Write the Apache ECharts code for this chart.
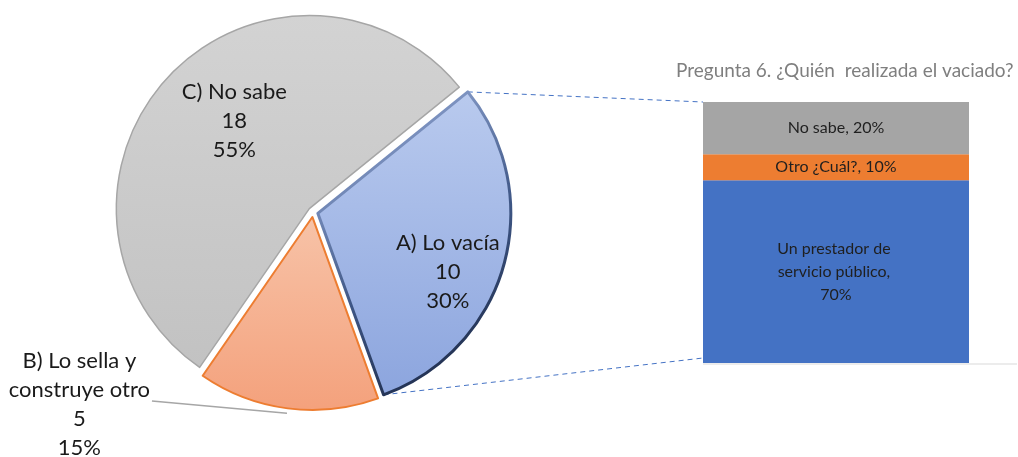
<!DOCTYPE html>
<html>
<head>
<meta charset="utf-8">
<script src="https://cdn.jsdelivr.net/npm/echarts@6/dist/echarts.min.js"></script>
<style>
  html, body { margin: 0; padding: 0; background: #fff; }
  #chart { width: 1018px; height: 457px; }
</style>
</head>
<body>
<div id="chart"></div>
<script>
// pie: what happens with the pit
const pieNames = ['A) Lo vacía', 'B) Lo sella y\nconstruye otro', 'C) No sabe'];
const pieValues = [10, 5, 18];

// stacked bar: who empties it (percent)
const barCategories = ['Pregunta 6'];
const barNames = ['Un prestador de servicio público', 'Otro ¿Cuál?', 'No sabe'];
const barValues = [70, 10, 20];
const barTitle = 'Pregunta 6. ¿Quién  realizada el vaciado?';

const font = 'Lato, "Open Sans", sans-serif';
const pieCenter = [313, 212];
const pieRadius = 193;
const pieStart = 39;
const explode = 5;
const gridLeft = 703, gridTop = 102, gridW = 266, gridH = 261;

const grad = (x2, y2, c0, c1, c2) => ({
  type: 'linear', x: 0, y: 0, x2, y2,
  colorStops: c2
    ? [{ offset: 0, color: c0 }, { offset: 0.55, color: c1 }, { offset: 1, color: c2 }]
    : [{ offset: 0, color: c0 }, { offset: 1, color: c1 }],
});

const sliceStyles = [
  { color: grad(0, 1, '#b9caee', '#8ca5de'), borderColor: grad(1, 1, '#a9bdea', '#3e5685', '#131d36'), borderWidth: 3 },
  { color: grad(0, 1, '#f7c3a8', '#f4a17c'), borderColor: '#ed7d31', borderWidth: 2 },
  { color: grad(0, 1, '#d3d3d3', '#c2c2c2'), borderColor: '#a6a6a6', borderWidth: 1.5 },
];
// where each pie label block is centred
const labelSpots = [[443, 271], [80, 399], [238, 124]];
const barColors = ['#4472c4', '#ed7d31', '#a5a5a5'];

const total = pieValues.reduce((a, b) => a + b, 0);
const rad = (d) => (d * Math.PI) / 180;
// slice angles in echarts convention (deg, ccw from 3 o'clock, drawn clockwise)
const sliceAngles = [];
let acc = 0;
pieValues.forEach((v) => {
  const a0 = pieStart - (360 * acc) / total;
  acc += v;
  const a1 = pieStart - (360 * acc) / total;
  sliceAngles.push([a0, a1, (a0 + a1) / 2]);
});
const piePoint = (i, ang) => {
  const mid = sliceAngles[i][2];
  return [
    pieCenter[0] + explode * Math.cos(rad(mid)) + pieRadius * Math.cos(rad(ang)),
    pieCenter[1] - explode * Math.sin(rad(mid)) - pieRadius * Math.sin(rad(ang)),
  ];
};

const pieData = pieNames.map((name, i) => ({
  name,
  value: pieValues[i],
  selected: true,
  itemStyle: sliceStyles[i],
  labelLine: { show: i === 1 },
}));

const pieText = { fontFamily: font, fontSize: 22, lineHeight: 29, color: '#1a1a1a', align: 'center' };

// label shift is worked out once, so re-layouts do not move it again
const labelShift = {};
const layoutPieLabel = (params) => {
  const i = params.dataIndex;
  const r = params.labelRect;
  const [tx, ty] = labelSpots[i];
  if (!labelShift[i]) {
    labelShift[i] = { dx: tx - (r.x + r.width / 2), dy: ty - (r.y + r.height / 2) };
  }
  const out = { ...labelShift[i] };
  if (i === 1) {
    out.labelLinePoints = [[tx + r.width / 2 + 2, ty - 3], piePoint(1, sliceAngles[1][2])];
  }
  return out;
};

// connectors from the blue slice corners to the bar's left edge (bar spans 0..100 on y)
const pTop = piePoint(0, sliceAngles[0][0]);
const pBot = piePoint(0, sliceAngles[0][1]);
const barTopY = gridTop;
const barBaseY = gridTop + gridH;
const dash = { stroke: '#4472c4', lineWidth: 1, lineDash: [5, 4] };

const chart = echarts.init(document.getElementById('chart'), null, { renderer: 'canvas' });

chart.setOption({
  animation: false,
  title: {
    text: barTitle,
    left: 671,
    top: 56,
    textStyle: { fontFamily: font, fontSize: 19, fontWeight: 'normal', color: '#7f7f7f' },
  },
  grid: { left: gridLeft, top: gridTop, width: gridW, height: gridH },
  xAxis: {
    type: 'category',
    data: barCategories,
    axisLine: { show: false },
    axisTick: { show: false },
    axisLabel: { show: false },
  },
  yAxis: { type: 'value', min: 0, max: 100, show: false },
  graphic: [
    { type: 'line', shape: { x1: pTop[0], y1: pTop[1], x2: gridLeft, y2: barTopY }, style: dash, silent: true },
    { type: 'line', shape: { x1: pBot[0], y1: pBot[1], x2: gridLeft, y2: barBaseY - 5 }, style: dash, silent: true },
    { type: 'line', shape: { x1: gridLeft, y1: barBaseY + 1, x2: gridLeft + gridW + 48, y2: barBaseY + 1 }, style: { stroke: '#d9d9d9', lineWidth: 1 }, silent: true },
  ],
  series: [
    {
      type: 'pie',
      center: pieCenter,
      radius: pieRadius,
      startAngle: pieStart,
      selectedMode: 'multiple',
      selectedOffset: explode,
      percentPrecision: 0,
      avoidLabelOverlap: false,
      silent: true,
      data: pieData,
      label: {
        position: 'outside',
        formatter: (p) =>
          [...p.name.split('\n'), String(p.value), p.percent + '%'].map((s) => '{c|' + s + '}').join('\n'),
        ...pieText,
        rich: { c: pieText },
      },
      labelLine: { length: 0, length2: 120, lineStyle: { color: '#a6a6a6', width: 1.5 } },
      labelLayout: layoutPieLabel,
    },
    ...barNames.map((name, i) => ({
      type: 'bar',
      name,
      stack: 'q6',
      data: [barValues[i]],
      barWidth: '100%',
      itemStyle: { color: barColors[i] },
      label: {
        show: true,
        position: 'inside',
        formatter: '{a}, {c}%',
        fontFamily: font,
        fontSize: 16,
        lineHeight: 23,
        color: '#1f1f1f',
        width: i === 0 ? 128 : undefined,
        overflow: i === 0 ? 'break' : 'none',
      },
    })),
  ],
});

window.addEventListener('resize', () => chart.resize());
</script>
</body>
</html>
